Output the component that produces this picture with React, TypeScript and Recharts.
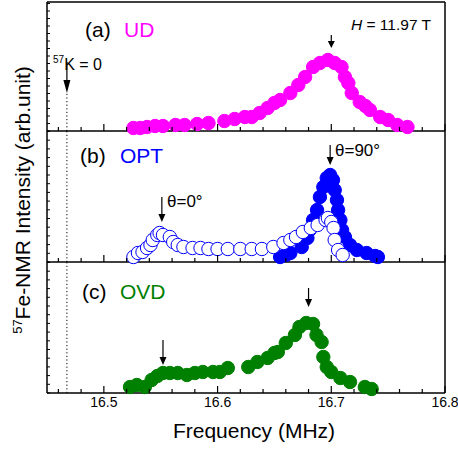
import React from "react";
import { ScatterChart, Scatter, XAxis, YAxis, ReferenceLine, ReferenceDot } from "recharts";

// frequency axis ticks (MHz)
const xTicks = [16.46, 16.48, 16.5, 16.52, 16.54, 16.56, 16.58, 16.6, 16.62, 16.64, 16.66, 16.68, 16.7, 16.72, 16.74, 16.76, 16.78, 16.8];

// (a) UD
const udFreq = [16.526, 16.532, 16.538, 16.545, 16.552, 16.563, 16.571, 16.582, 16.592, 16.606, 16.615, 16.624, 16.630, 16.637, 16.644, 16.650, 16.655, 16.664, 16.671, 16.677, 16.684, 16.690, 16.697, 16.703, 16.709, 16.712, 16.715, 16.718, 16.725, 16.730, 16.734, 16.743, 16.750, 16.758, 16.767];
const udInt = [3, 3, 4, 5, 5, 6, 6, 7, 8, 10, 12, 14, 14, 18, 23, 28, 31, 38, 46, 54, 64, 68, 71, 68, 64, 54, 48, 38, 29, 25, 21, 14, 11, 6, 4];

// (b) OPT, theta = 0 (open)
const opt0Freq = [16.526, 16.530, 16.534, 16.538, 16.541, 16.543, 16.547, 16.549, 16.552, 16.558, 16.561, 16.565, 16.570, 16.578, 16.585, 16.592, 16.600, 16.609, 16.620, 16.630, 16.639, 16.649, 16.658, 16.664, 16.669, 16.675, 16.682, 16.688, 16.695, 16.697, 16.700, 16.702, 16.703, 16.706, 16.710];
const opt0Int = [5, 9, 10, 14, 17, 22, 27, 29, 27, 25, 20, 17, 15, 14, 14, 13, 13, 13, 13, 13, 13, 15, 19, 22, 25, 30, 34, 37, 42, 44, 40, 34, 22, 12, 7];

// (b) OPT, theta = 90 (filled)
const opt90Freq = [16.655, 16.660, 16.664, 16.674, 16.679, 16.681, 16.684, 16.6875, 16.690, 16.693, 16.696, 16.699, 16.7015, 16.703, 16.705, 16.706, 16.708, 16.7095, 16.712, 16.7165, 16.7225, 16.731, 16.7385, 16.741];
const opt90Int = [5, 7, 9, 15, 24, 32, 42, 52, 65, 75, 84, 87, 82, 72, 62, 52, 42, 32, 25, 17, 12, 9, 6, 5];

// (c) OVD
const ovdFreq = [16.523, 16.529, 16.536, 16.542, 16.547, 16.552, 16.558, 16.565, 16.573, 16.580, 16.587, 16.596, 16.602, 16.609, 16.627, 16.635, 16.644, 16.650, 16.653, 16.660, 16.668, 16.672, 16.678, 16.684, 16.687, 16.6915, 16.693, 16.696, 16.700, 16.708, 16.7165, 16.7295, 16.7355];
const ovdInt = [6, 8, 6, 13, 17, 20, 20, 20, 18, 20, 21, 21, 21, 25, 26, 31, 35, 40, 41, 50, 58, 66, 70, 69, 58, 51, 36, 26, 21, 15, 11, 6, 4];

const K0 = 16.4675;

const FONT = '"Liberation Sans", Arial, Helvetica, sans-serif';
const MAGENTA = "#ff00ff";
const BLUE = "#0000ff";
const GREEN = "#008000";

const pts = (f: number[], v: number[]) => f.map((x, i) => ({ f: x, v: v[i] }));

const axisStyle = { stroke: "#000", strokeWidth: 1.5 };

const isMajor = (v: number) => Math.abs(v * 10 - Math.round(v * 10)) < 1e-6;

const dot = (fill: string, stroke: string) => (p: any) => (
  <circle cx={p.cx} cy={p.cy} r={6.7} fill={fill} stroke={stroke} strokeWidth={1} />
);

const arrow = (len: number, head: number) => (p: any) => (
  <g>
    <line x1={p.cx} x2={p.cx} y1={p.cy - len} y2={p.cy - head + 1} stroke="#000" strokeWidth={1.2} />
    <path d={`M${p.cx - 3.5},${p.cy - head} L${p.cx + 3.5},${p.cy - head} L${p.cx},${p.cy} Z`} fill="#000" />
  </g>
);

type PanelProps = {
  top: number;
  bottom: number;
  tickStep: number;
  first?: boolean;
  last?: boolean;
  children: React.ReactNode;
};

function Panel({ top, bottom, tickStep, first, last, children }: PanelProps) {
  const extra = last ? 40 : 0;
  const h = bottom - top + 20 + extra;
  const yMax = bottom - top;
  const yTicks = Array.from({ length: Math.floor(yMax / tickStep) + 1 }, (_, i) => i * tickStep);
  return (
    <div style={{ position: "absolute", left: 0, top: top - 10, width: 458, height: h }}>
      <ScatterChart width={458} height={h} margin={{ top: first ? 9 : 10, right: 12, bottom: 9 + extra, left: 46 }}>
        <XAxis
          type="number"
          dataKey="f"
          domain={[16.45, 16.8]}
          ticks={xTicks}
          interval={0}
          height={1}
          tickSize={0}
          tickMargin={0}
          allowDataOverflow
          axisLine={axisStyle}
          tickLine={false}
          tick={(p: any) => (
            <g>
              <line x1={p.x} x2={p.x} y1={p.y} y2={p.y - (isMajor(p.payload.value) ? 7 : 4)} stroke="#000" strokeWidth={1.2} />
              {last && isMajor(p.payload.value) && (
                <text x={p.x} y={p.y + 14} textAnchor="middle" fontSize={14} fontFamily={FONT} fill="#000">
                  {p.payload.value.toFixed(1)}
                </text>
              )}
            </g>
          )}
        />
        {first && (
          <XAxis
            xAxisId="top"
            orientation="top"
            type="number"
            domain={[16.45, 16.8]}
            ticks={xTicks}
            interval={0}
            height={1}
            tickSize={0}
            tickMargin={0}
            allowDataOverflow
            axisLine={axisStyle}
            tickLine={false}
            tick={(p: any) => (
              <line x1={p.x} x2={p.x} y1={p.y} y2={p.y + (isMajor(p.payload.value) ? 7 : 4)} stroke="#000" strokeWidth={1.2} />
            )}
          />
        )}
        <YAxis
          type="number"
          dataKey="v"
          domain={[0, yMax]}
          ticks={yTicks}
          interval={0}
          width={1}
          tickSize={0}
          tickMargin={0}
          axisLine={axisStyle}
          tickLine={false}
          tick={(p: any) => <line x1={p.x} x2={p.x + 3} y1={p.y} y2={p.y} stroke="#000" strokeWidth={1} />}
        />
        <YAxis
          yAxisId="right"
          orientation="right"
          type="number"
          domain={[0, yMax]}
          ticks={yTicks}
          interval={0}
          width={1}
          tickSize={0}
          tickMargin={0}
          axisLine={axisStyle}
          tickLine={false}
          tick={(p: any) => <line x1={p.x} x2={p.x - 3} y1={p.y} y2={p.y} stroke="#000" strokeWidth={1} />}
        />
        {children}
      </ScatterChart>
    </div>
  );
}

export default function App() {
  return (
    <div style={{ position: "absolute", left: 0, top: 0, width: 458, height: 451, background: "#fff", fontFamily: FONT }}>
      <Panel top={2} bottom={131} tickStep={7.5} first>
        <ReferenceLine segment={[{ x: K0, y: 0 }, { x: K0, y: 38 }]} stroke="#000" strokeWidth={1} strokeDasharray="1.2 2.4" />
        <ReferenceDot x={K0} y={38} shape={arrow(31, 13)} />
        <ReferenceDot x={16.7} y={83} shape={arrow(13, 7)} />
        <Scatter data={pts(udFreq, udInt)} isAnimationActive={false} shape={dot(MAGENTA, MAGENTA)} />
      </Panel>
      <Panel top={131} bottom={262} tickStep={8.7}>
        <ReferenceLine x={K0} stroke="#000" strokeWidth={1} strokeDasharray="1.2 2.4" />
        <ReferenceDot x={16.551} y={40} shape={arrow(25, 8)} />
        <ReferenceDot x={16.699} y={97} shape={arrow(20, 8)} />
        <Scatter data={pts(opt90Freq, opt90Int)} isAnimationActive={false} shape={dot(BLUE, BLUE)} />
        <Scatter data={pts(opt0Freq, opt0Int)} isAnimationActive={false} shape={dot("#fff", BLUE)} />
      </Panel>
      <Panel top={262} bottom={393} tickStep={8.7} last>
        <ReferenceLine x={K0} stroke="#000" strokeWidth={1} strokeDasharray="1.2 2.4" />
        <ReferenceDot x={16.552} y={28} shape={arrow(25, 8)} />
        <ReferenceDot x={16.68} y={86} shape={arrow(19, 8)} />
        <Scatter data={pts(ovdFreq, ovdInt)} isAnimationActive={false} shape={dot(GREEN, GREEN)} />
      </Panel>
      <svg width={458} height={451} style={{ position: "absolute", left: 0, top: 0, pointerEvents: "none" }} fontFamily={FONT}>
        <text x={85} y={37} fontSize={21}>(a)</text>
        <text x={124} y={37} fontSize={21} fill={MAGENTA}>UD</text>
        <text x={431} y={30} fontSize={15.5} textAnchor="end">
          <tspan fontStyle="italic">H</tspan> = 11.97 T
        </text>
        <text x={53} y={70} fontSize={16}>
          <tspan fontSize={10} dy={-7}>57</tspan>
          <tspan dy={7}>K = 0</tspan>
        </text>
        <text x={80} y={163} fontSize={21}>(b)</text>
        <text x={120} y={163} fontSize={21} fill={BLUE}>OPT</text>
        <text x={167} y={207} fontSize={17}>θ=0°</text>
        <text x={335} y={156} fontSize={17}>θ=90°</text>
        <text x={82} y={299} fontSize={21}>(c)</text>
        <text x={120} y={299} fontSize={21} fill={GREEN}>OVD</text>
        <text x={254} y={438} fontSize={21} textAnchor="middle">Frequency (MHz)</text>
        <text x={30} y={200} fontSize={21} textAnchor="middle" transform="rotate(-90 30 200)">
          <tspan fontSize={13} dy={-8}>57</tspan>
          <tspan dy={8}>Fe-NMR Intensity (arb.unit)</tspan>
        </text>
      </svg>
    </div>
  );
}
